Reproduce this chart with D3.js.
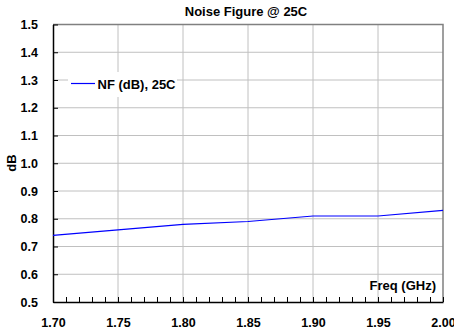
<!DOCTYPE html>
<html>
<head>
<script src="https://d3js.org/d3.v7.min.js"></script>
<style>
body { margin: 0; background: #fff; }
text { font-family: "Liberation Sans", Arial, sans-serif; font-weight: bold; fill: #000; }
</style>
</head>
<body>
<svg id="chart" width="454" height="333"></svg>
<script>
// readings
var freqs = [1.70, 1.75, 1.80, 1.85, 1.90, 1.95, 2.00];
var nf25 = [0.74, 0.76, 0.78, 0.79, 0.81, 0.81, 0.83];
var xTicks = [1.70, 1.75, 1.80, 1.85, 1.90, 1.95, 2.00];
var yTicks = [0.5, 0.6, 0.7, 0.8, 0.9, 1.0, 1.1, 1.2, 1.3, 1.4, 1.5];

var svg = d3.select("#chart");
var plotL = 53, plotR = 443, plotT = 24.5, plotB = 302;

var x = d3.scaleLinear().domain([1.70, 2.00]).range([plotL, plotR]);
var y = d3.scaleLinear().domain([0.5, 1.5]).range([plotB, plotT]);

// grid
svg.append("g").selectAll("line")
    .data(yTicks.slice(1, -1))
    .enter().append("line")
    .attr("x1", plotL).attr("x2", plotR)
    .attr("y1", function(d) { return y(d); })
    .attr("y2", function(d) { return y(d); })
    .attr("stroke", "#c0c0c0").attr("stroke-width", 1);

svg.append("g").selectAll("line")
    .data(xTicks.slice(1, -1))
    .enter().append("line")
    .attr("y1", plotT).attr("y2", plotB)
    .attr("x1", function(d) { return x(d); })
    .attr("x2", function(d) { return x(d); })
    .attr("stroke", "#c0c0c0").attr("stroke-width", 1);

// top / right frame
svg.append("path")
    .attr("d", "M" + plotL + "," + plotT + "H" + plotR + "V" + plotB)
    .attr("fill", "none").attr("stroke", "#808080").attr("stroke-width", 1.5);

// axes with inside ticks
var minor = d3.range(170, 201).map(function(d) { return d / 100; });
svg.append("g")
    .attr("transform", "translate(0," + plotB + ")")
    .call(d3.axisBottom(x).tickValues(minor).tickSizeInner(-5).tickSizeOuter(0).tickFormat(""))
    .call(function(g) { g.select(".domain").attr("stroke", "#000").attr("stroke-width", 1.5); });

svg.append("g")
    .attr("transform", "translate(0," + plotB + ")")
    .call(d3.axisBottom(x).tickValues(xTicks).tickSize(0).tickPadding(16).tickFormat(d3.format(".2f")))
    .call(function(g) {
      g.select(".domain").remove();
      g.selectAll("text").style("font-size", "12.5px").style("font-family", null);
    });

svg.append("g")
    .attr("transform", "translate(" + plotL + ",0)")
    .call(d3.axisLeft(y).tickValues(yTicks).tickSizeInner(-5).tickSizeOuter(0).tickPadding(15).tickFormat(d3.format(".1f")))
    .call(function(g) {
      g.select(".domain").attr("stroke", "#000").attr("stroke-width", 1.5);
      g.selectAll("text").style("font-size", "12.5px").style("font-family", null);
    });

// legend box
svg.append("rect")
    .attr("x", 68).attr("y", 72).attr("width", 109).attr("height", 25)
    .attr("fill", "#fff");
svg.append("line")
    .attr("x1", 71).attr("x2", 95).attr("y1", 83.5).attr("y2", 83.5)
    .attr("stroke", "#0000ff").attr("stroke-width", 1.2);
svg.append("text")
    .attr("x", 97.5).attr("y", 88.5)
    .style("font-size", "13px")
    .text("NF (dB), 25C");

// data line
var line = d3.line()
    .x(function(d, i) { return x(freqs[i]); })
    .y(function(d) { return y(d); });
svg.append("path")
    .datum(nf25)
    .attr("d", line)
    .attr("fill", "none")
    .attr("stroke", "#0000ff")
    .attr("stroke-width", 1.2);

// titles
svg.append("text")
    .attr("x", 246).attr("y", 16)
    .attr("text-anchor", "middle")
    .style("font-size", "13px")
    .text("Noise Figure @ 25C");

svg.append("text")
    .attr("x", 436).attr("y", 290)
    .attr("text-anchor", "end")
    .style("font-size", "13px")
    .text("Freq (GHz)");

svg.append("text")
    .attr("transform", "translate(16,163) rotate(-90)")
    .attr("text-anchor", "middle")
    .style("font-size", "13px")
    .text("dB");
</script>
</body>
</html>
